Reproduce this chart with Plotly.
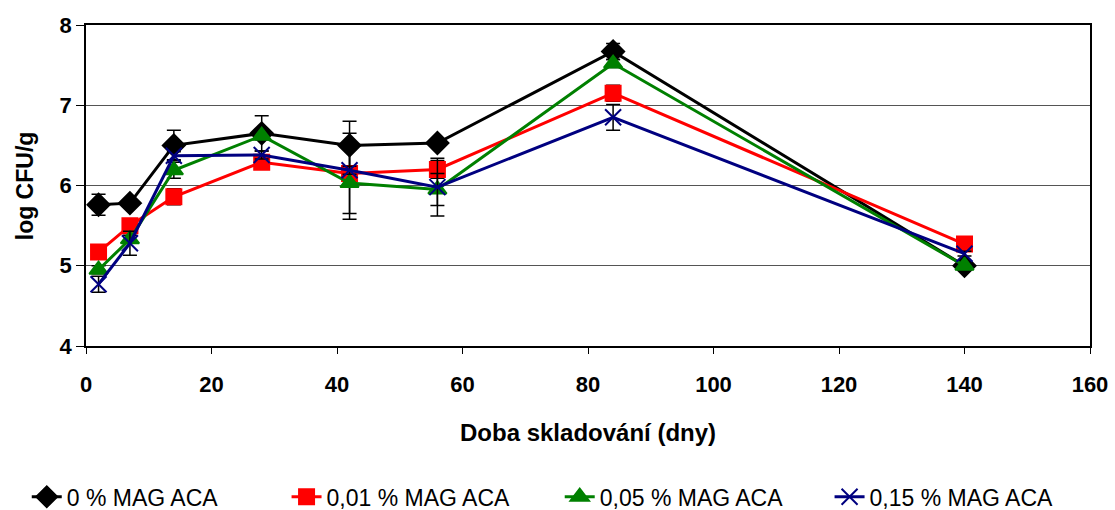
import plotly.graph_objects as go

days = [2, 7, 14, 28, 42, 56, 84, 140]

names = ["0 % MAG ACA", "0,01 % MAG ACA", "0,05 % MAG ACA", "0,15 % MAG ACA"]

s0 = [5.76, 5.78, 6.50, 6.65, 6.50, 6.53, 7.67, 5.00]
s1 = [5.17, 5.50, 5.86, 6.29, 6.15, 6.20, 7.15, 5.27]
s2 = [4.95, 5.33, 6.19, 6.62, 6.03, 5.95, 7.52, 5.00]
s3 = [4.77, 5.28, 6.37, 6.38, 6.19, 5.98, 6.85, 5.15]

e0 = [0.13, 0.03, 0.19, 0.22, 0.30, 0.03, 0.10, 0.03]
e1 = [0.05, 0.05, 0.10, 0.05, 0.50, 0.11, 0.10, 0.03]
e2 = [0.05, 0.05, 0.10, 0.05, 0.45, 0.20, 0.05, 0.03]
e3 = [0.10, 0.15, 0.05, 0.05, 0.05, 0.36, 0.16, 0.03]

x_ticks = [0, 20, 40, 60, 80, 100, 120, 140, 160]
y_ticks = [4, 5, 6, 7, 8]

colors = ["#000000", "#ff0000", "#008000", "#000080"]
symbols = ["diamond", "square", "triangle-up", "x-thin"]
sizes = [17, 15, 16, 16]
legend_ids = ["legend", "legend2", "legend3", "legend4"]
legend_x = [0.024, 0.257, 0.502, 0.744]

fig = go.Figure()
for name, ys, es, c, sym, sz, lid in zip(names, [s0, s1, s2, s3], [e0, e1, e2, e3],
                                         colors, symbols, sizes, legend_ids):
    fig.add_trace(go.Scatter(
        x=days, y=ys, name=name, mode="lines+markers", legend=lid,
        line=dict(color=c, width=3),
        marker=dict(symbol=sym, size=sz, color=c, line=dict(color=c, width=2)),
        error_y=dict(type="data", array=es, visible=True, color="black", thickness=1.5, width=7),
    ))

legend_layout = {}
for lid, lx in zip(legend_ids, legend_x):
    legend_layout[lid] = dict(
        orientation="h", xref="container", x=lx, xanchor="left",
        yref="container", y=0.026, yanchor="middle",
        font=dict(family="Liberation Sans, Arial", size=23),
        itemwidth=30, bgcolor="rgba(0,0,0,0)",
    )

fig.update_layout(
    width=1115, height=510,
    margin=dict(l=86, r=25, t=25, b=164),
    paper_bgcolor="white", plot_bgcolor="white",
    font=dict(family="Liberation Sans, Arial, sans-serif", color="black"),
    showlegend=True,
    annotations=[
        dict(text="<b>Doba skladování (dny)</b>", xref="paper", yref="paper",
             x=0.5, y=-0.271, xanchor="center", yanchor="middle", showarrow=False,
             font=dict(size=24)),
        dict(text="<b>log CFU/g</b>", xref="paper", yref="paper", textangle=-90,
             x=-0.061, y=0.5, xanchor="center", yanchor="middle", showarrow=False,
             font=dict(size=23)),
    ],
    **legend_layout,
)
fig.update_xaxes(
    range=[0, 160], tickvals=x_ticks, ticktext=["<b>%d</b>" % v for v in x_ticks],
    showgrid=False, zeroline=False, automargin=False,
    showline=True, linecolor="black", linewidth=1.5, mirror=True,
    ticks="outside", ticklen=6, tickcolor="black", ticklabelstandoff=12,
    tickfont=dict(size=22),
)
fig.update_yaxes(
    range=[4, 8], tickvals=y_ticks, ticktext=["<b>%d</b>" % v for v in y_ticks],
    showgrid=True, gridcolor="#555555", gridwidth=1, zeroline=False, automargin=False,
    showline=True, linecolor="black", linewidth=1.5, mirror=True,
    ticks="outside", ticklen=8, tickcolor="black",
    tickfont=dict(size=22),
)

fig.write_html("out.html", config={"displayModeBar": False},
               post_script="document.body.style.margin='0';")
